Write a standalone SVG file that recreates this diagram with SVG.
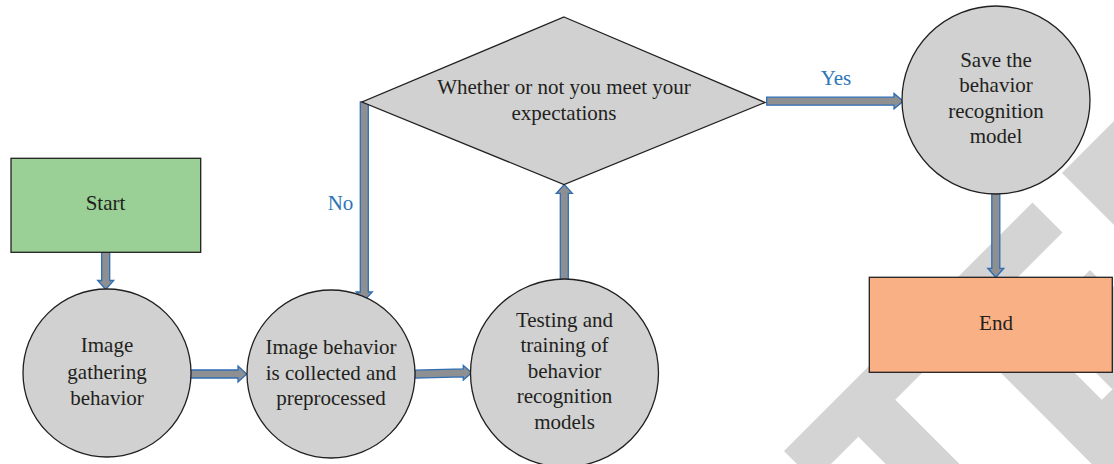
<svg xmlns="http://www.w3.org/2000/svg" width="1114" height="464" viewBox="0 0 1114 464">
<style>
  .wm { fill: #d4d4d4; stroke: none; }
  .node { fill: #d0d1d0; stroke: #231f20; stroke-width: 1.3; }
  .start { fill: #9ad095; stroke: #231f20; stroke-width: 1.3; }
  .end { fill: #f9b084; stroke: #231f20; stroke-width: 1.3; }
  .arrow { fill: #8e8f91; stroke: #2f6db5; stroke-width: 1.3; stroke-linejoin: miter; }
  .t { font-family: "Liberation Serif", "Times New Roman", serif; font-size: 21px; fill: #231f20; text-anchor: middle; }
  .lbl { font-family: "Liberation Serif", "Times New Roman", serif; font-size: 21px; fill: #2e75b6; text-anchor: middle; }
</style>
<rect x="0" y="0" width="1114" height="464" fill="#ffffff"/>
<g id="watermark">
  <polygon class="wm" points="1032.5,202.5 1062.5,232.5 895.25,399.75 1047.75,552.25 1010.85,589.15 858.35,436.65 814,481 784,451"/>
  <polygon class="wm" points="1062,173 1117,228 1172.5,172.5 1117.5,117.5"/>
  <polygon class="wm" points="1090,270 1120,300 1030,390 1000,360 1060,300"/>
  <polygon class="wm" points="1112.35,389.35 1200.85,300.85 1150,250 1061.5,338.5"/>
  <polygon class="wm" points="964,336 1001,299 1226,524 1189,561"/>
  <polygon class="wm" points="1064.85,436.85 1130.85,370.85 1161,401 1095,467"/>
</g>
<g id="connectors">
  <path class="arrow" d="M101.7,252.3 H109.7 V280.5 H113.7 L105.7,289.5 L97.7,280.5 H101.7 Z"/>
  <path class="arrow" d="M190.5,370 H238 V366 L246.7,374 L238,382 V378 H190.5 Z"/>
  <path class="arrow" d="M415,370.2 L463.3,368.8 V365.5 L471.7,372.7 L463.3,380 V376.8 L415,378.2 Z"/>
  <path class="arrow" d="M560.3,279.5 V193.3 H556.3 L564.3,184.5 L572.3,193.3 H568.3 V279.5 Z"/>
  <path class="arrow" d="M360.3,102 H368.3 V292 H372.3 L364.3,300.5 L356.3,292 H360.3 Z"/>
  <path class="arrow" d="M766.7,97.2 H894 V93.5 L903.3,101.2 L894,108.8 V105.2 H766.7 Z"/>
  <path class="arrow" d="M991.8,191.5 H999.8 V268.3 H1003.8 L995.8,277.3 L987.8,268.3 H991.8 Z"/>
  <text class="lbl" x="340.5" y="210">No</text>
  <text class="lbl" x="836" y="85">Yes</text>
</g>
<g id="start">
  <rect class="start" x="11" y="158.3" width="189.7" height="94"/>
  <text class="t" x="105.5" y="210">Start</text>
</g>
<g id="gather">
  <circle class="node" cx="107" cy="373" r="84"/>
  <text class="t" x="107" y="352">Image</text>
  <text class="t" x="107" y="378.5">gathering</text>
  <text class="t" x="107" y="404.5">behavior</text>
</g>
<g id="preprocess">
  <circle class="node" cx="331" cy="374" r="84"/>
  <text class="t" x="331" y="354">Image behavior</text>
  <text class="t" x="331" y="379.5">is collected and</text>
  <text class="t" x="331" y="405">preprocessed</text>
</g>
<g id="train">
  <circle class="node" cx="564.5" cy="373" r="94"/>
  <text class="t" x="564.5" y="327">Testing and</text>
  <text class="t" x="564.5" y="352">training of</text>
  <text class="t" x="564.5" y="377.5">behavior</text>
  <text class="t" x="564.5" y="403">recognition</text>
  <text class="t" x="564.5" y="428.5">models</text>
</g>
<g id="decision">
  <polygon class="node" points="564,17 765,102.5 564,184.5 362,102"/>
  <text class="t" x="564" y="93.5">Whether or not you meet your</text>
  <text class="t" x="564" y="119.5">expectations</text>
</g>
<g id="save">
  <circle class="node" cx="996" cy="100" r="94"/>
  <text class="t" x="996" y="67">Save the</text>
  <text class="t" x="996" y="92">behavior</text>
  <text class="t" x="996" y="117.5">recognition</text>
  <text class="t" x="996" y="143">model</text>
</g>
<g id="end">
  <rect class="end" x="869.3" y="277.3" width="243" height="95"/>
  <text class="t" x="996" y="330">End</text>
</g>
</svg>
